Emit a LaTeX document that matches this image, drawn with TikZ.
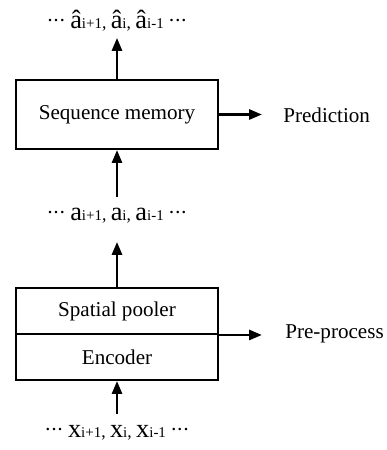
\documentclass[tikz,border=0pt]{standalone}
\usepackage{fontspec}
\setmainfont{Liberation Serif}
\usepackage{tikz}
\usetikzlibrary{arrows.meta,calc,positioning}
\tikzset{
        block/.style = {draw, rectangle, line width=1.1pt,
            minimum width=4.04cm, font=\fontsize{12}{14}\selectfont},
        seq/.style = {inner sep=0pt},
        label/.style = {inner sep=0pt, anchor=west, font=\fontsize{12}{14}\selectfont},
        arrow/.style = {draw, line width=1.6pt, -{Triangle[length=0.26cm,width=0.2cm]}},
    }
\newcommand{\seqel}[2]{{\fontsize{15}{15}\selectfont #1}{\fontsize{8.5}{9}\selectfont #2}}
\newcommand{\seqdots}{{\fontsize{12}{12}\selectfont\raisebox{0.5pt}{\textperiodcentered\kern-0.5pt\textperiodcentered\kern-0.5pt\textperiodcentered}}}

\begin{document}
\begin{tikzpicture}
    \useasboundingbox (0,0) rectangle (7.74,-9.0);

    \node[block, minimum height=1.38cm] (seqmem) at (2.34,-2.29) {Sequence memory};
    \node[block, minimum height=0.92cm] (pooler) at (2.34,-6.22) {Spatial pooler};
    \node[block, minimum height=0.92cm, below=-1.1pt of pooler] (encoder) {Encoder};

    \node[seq] (ahat) at (2.34,-0.42)
        {\seqdots\ \seqel{â}{i+1}, \seqel{â}{i}, \seqel{â}{i-1} \seqdots};
    \node[seq] (amid) at (2.34,-4.32)
        {\seqdots\ \seqel{a}{i+1}, \seqel{a}{i}, \seqel{a}{i-1} \seqdots};
    \node[seq] (xin) at (2.34,-8.66)
        {\seqdots\ \seqel{x}{i+1}, \seqel{x}{i}, \seqel{x}{i-1} \seqdots};

    \node[label] (pred) at (5.66,-2.30) {Prediction};
    \node[label] (prep) at (5.70,-6.68) {Pre-process};

    % vertical flow
    \draw[arrow, shorten <=0.22cm] (xin) -- (encoder);
    \draw[arrow, shorten >=0.36cm] (pooler) -- (amid);
    \draw[arrow, shorten <=0.22cm] (amid) -- (seqmem);
    \draw[arrow, shorten >=0.12cm] (seqmem) -- (ahat);

    % side outputs
    \draw[arrow, shorten >=0.42cm] (seqmem.east) -- (seqmem.east -| pred.west);
    \draw[arrow, shorten >=0.46cm] (pooler.south east) -- (pooler.south east -| prep.west);
\end{tikzpicture}
\end{document}
